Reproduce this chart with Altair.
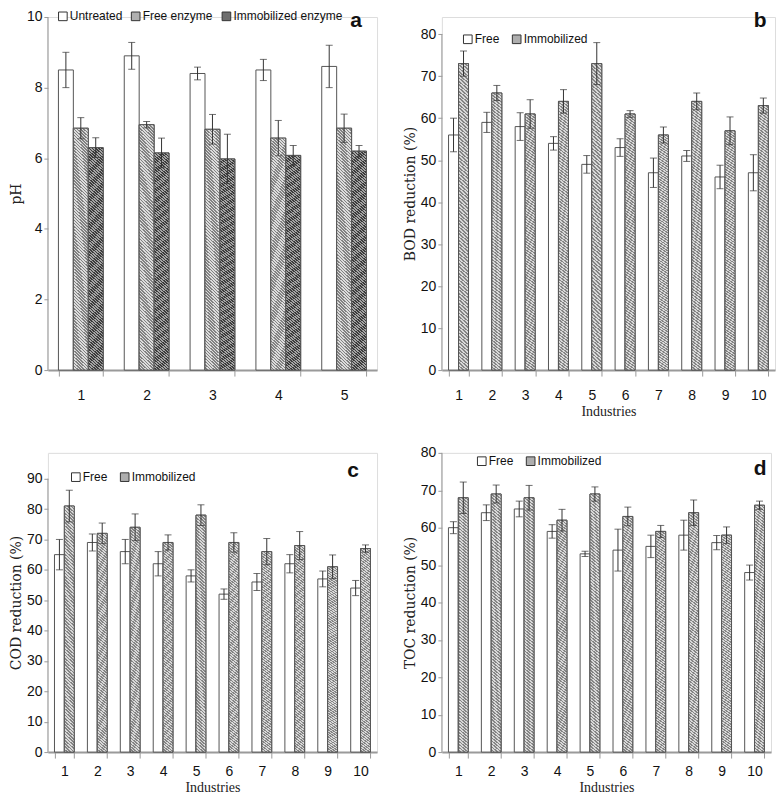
import altair as alt
import pandas as pd

# ---------------- data ----------------
ind5 = ["1", "2", "3", "4", "5"]
ind10 = ["1", "2", "3", "4", "5", "6", "7", "8", "9", "10"]

ph_series = ["Untreated", "Free enzyme", "Immobilized enzyme"]
ph_untreated = [8.5, 8.9, 8.4, 8.5, 8.6]
ph_untreated_err = [0.5, 0.38, 0.18, 0.3, 0.6]
ph_free = [6.85, 6.95, 6.82, 6.57, 6.85]
ph_free_err = [0.3, 0.09, 0.42, 0.5, 0.4]
ph_immob = [6.3, 6.15, 5.98, 6.08, 6.2]
ph_immob_err = [0.28, 0.42, 0.7, 0.28, 0.16]

fi_series = ["Free", "Immobilized"]
bod_free = [56, 59, 58, 54, 49, 53, 47, 51, 46, 47]
bod_free_err = [4, 2.4, 3.3, 1.6, 2.1, 2.1, 3.5, 1.3, 2.8, 4.3]
bod_immob = [73, 66, 61, 64, 73, 61, 56, 64, 57, 63]
bod_immob_err = [3, 1.8, 3.4, 2.8, 5, 0.8, 1.9, 2, 3.3, 1.8]

cod_free = [65, 69, 66, 62, 58, 52, 56, 62, 57, 54]
cod_free_err = [5, 2.8, 4, 4, 2, 1.7, 2.8, 3, 2.6, 2.5]
cod_immob = [81, 72, 74, 69, 78, 69, 66, 68, 61, 67]
cod_immob_err = [5.2, 3.4, 4.4, 2.5, 3.4, 3.2, 4.3, 4.6, 3.9, 1.2]

toc_free = [60, 64, 65, 59, 53, 54, 55, 58, 56, 48]
toc_free_err = [1.6, 2.1, 2.1, 1.8, 0.7, 5.6, 3, 4, 1.9, 2]
toc_immob = [68, 69, 68, 62, 69, 63, 59, 64, 58, 66]
toc_immob_err = [4.2, 2.4, 3.3, 2.9, 1.9, 2.5, 1.6, 3.4, 2.2, 1.1]

SANS = "Liberation Sans, Arial, sans-serif"
SERIF = "DejaVu Serif, Liberation Serif, serif"


def make_df(cats, names, vals, errs):
    rows = []
    for s, vv, ee in zip(names, vals, errs):
        for c, v, e in zip(cats, vv, ee):
            rows.append({"ind": c, "series": s, "value": v, "lo": v - e, "hi": v + e})
    return pd.DataFrame(rows)


def hatch(c_dark, c_light, slant, n=90):
    """Diagonal stripe fill built from a linear gradient with hard stops."""
    f = (slant + 1) / (slant * slant + 1)  # make the gradient span the whole box
    stops = []
    for i in range(n):
        a = i / n
        m = (i + 0.5) / n
        b = (i + 1) / n
        stops += [{"offset": a, "color": c_dark}, {"offset": m, "color": c_dark},
                  {"offset": m, "color": c_light}, {"offset": b, "color": c_light}]
    return {"gradient": "linear", "x1": 0, "y1": 0, "x2": slant * f, "y2": f, "stops": stops}


def panel(df, cats, names, fills, hatches, width, height, ymax, tick_values, ytitle, xtitle,
          letter, letter_xy, legend_xy, pin, pout, lab_pad, legend_pad):
    x = alt.X("ind:O", sort=cats,
              scale=alt.Scale(type="band", paddingInner=pin, paddingOuter=pout),
              axis=alt.Axis(title=xtitle, labelAngle=0, tickBand="extent",
                            domainColor="#9a9a9a", domainWidth=2, tickColor="#9a9a9a",
                            tickSize=6, labelPadding=lab_pad, labelFont=SANS,
                            labelFontSize=14, labelColor="#111",
                            titleFont="Liberation Serif", titleFontSize=14,
                            titleFontWeight="normal", titlePadding=3, titleColor="#222"))
    yscale = alt.Scale(domain=[0, ymax], nice=False)
    yaxis = alt.Axis(title=ytitle, values=tick_values, domain=False, grid=False,
                     labelOverlap=False,
                     tickColor="#9a9a9a", tickSize=4, labelPadding=2,
                     labelFont=SANS, labelFontSize=14, labelColor="#111",
                     titleFont=SERIF, titleFontSize=14, titleFontWeight="normal",
                     titleColor="#222", titlePadding=3)

    def Y(field):
        return alt.Y(f"{field}:Q", scale=yscale, axis=yaxis)

    xo = alt.XOffset("series:N", sort=names,
                     scale=alt.Scale(type="band", domain=names, paddingInner=0, paddingOuter=0))
    base = alt.Chart(df)
    bars = base.mark_bar(stroke="#555", strokeWidth=1).encode(
        x=x, xOffset=xo, y=Y("value"),
        fill=alt.Fill("series:N", sort=names,
                      scale=alt.Scale(domain=names, range=fills),
                      legend=alt.Legend(title=None, orient="none", direction="horizontal",
                                        legendX=legend_xy[0], legendY=legend_xy[1],
                                        symbolType="square", symbolSize=75,
                                        symbolStrokeColor="#333", symbolStrokeWidth=1,
                                        labelFont=SANS, labelFontSize=12,
                                        labelColor="#111", labelOffset=1,
                                        columnPadding=legend_pad)))
    layers = [bars]
    for name, g in hatches.items():
        layers.append(base.transform_filter(alt.datum.series == name).mark_bar(
            fill=g, stroke="#555", strokeWidth=1).encode(x=x, xOffset=xo, y=Y("value")))
    err = base.mark_rule(color="#333", strokeWidth=1).encode(
        x=x, xOffset=xo, y=Y("lo"), y2="hi:Q")
    cap_hi = base.mark_tick(color="#333", size=7, thickness=1).encode(
        x=x, xOffset=xo, y=Y("hi"))
    cap_lo = base.mark_tick(color="#333", size=7, thickness=1).encode(
        x=x, xOffset=xo, y=Y("lo"))
    yline = alt.Chart(pd.DataFrame({"y0": [0], "y1": [tick_values[-1]]})).mark_rule(
        color="#9a9a9a", strokeWidth=1).encode(
        x=alt.value(0), y=Y("y0"), y2="y1:Q")
    lab = alt.Chart(pd.DataFrame({"t": [letter]})).mark_text(
        font="Liberation Sans", fontSize=21, fontWeight="bold", color="#111").encode(
        x=alt.value(letter_xy[0]), y=alt.value(letter_xy[1]), text="t:N")
    layers += [err, cap_hi, cap_lo, yline, lab]
    return alt.layer(*layers).properties(width=width, height=height)


df_a = make_df(ind5, ph_series, [ph_untreated, ph_free, ph_immob],
               [ph_untreated_err, ph_free_err, ph_immob_err])
df_b = make_df(ind10, fi_series, [bod_free, bod_immob], [bod_free_err, bod_immob_err])
df_c = make_df(ind10, fi_series, [cod_free, cod_immob], [cod_free_err, cod_immob_err])
df_d = make_df(ind10, fi_series, [toc_free, toc_immob], [toc_free_err, toc_immob_err])

hatch_a = {"Free enzyme": hatch("#828282", "#dcdcdc", 0.13),
           "Immobilized enzyme": hatch("#3c3c3c", "#a4a4a4", 0.13)}

pa = panel(df_a, ind5, ph_series, ["#ffffff", "#b0b0b0", "#6e6e6e"], hatch_a, 330, 354, 10,
           [0, 2, 4, 6, 8, 10], "pH", None, "a", (309, 4), (9, -7), 0.32, 0.16, 12, 6)
pb = panel(df_b, ind10, fi_series, ["#ffffff", "#aeaeae"],
           {"Immobilized": hatch("#858585", "#d8d8d8", 0.08, 100)}, 334, 354, 84.1,
           [0, 10, 20, 30, 40, 50, 60, 70, 80], "BOD reduction (%)", "Industries",
           "b", (319, 4), (20, 16), 0.4, 0.2, 12, 10)
pc = panel(df_c, ind10, fi_series, ["#ffffff", "#aeaeae"],
           {"Immobilized": hatch("#858585", "#d8d8d8", 0.09, 85)}, 330, 300, 98.5,
           [0, 10, 20, 30, 40, 50, 60, 70, 80, 90], "COD reduction (%)", "Industries",
           "c", (306, 18), (22, 18), 0.4, 0.2, 6, 10)
pd_ = panel(df_d, ind10, fi_series, ["#ffffff", "#aeaeae"],
            {"Immobilized": hatch("#858585", "#d8d8d8", 0.085, 92)}, 330, 300, 80,
            [0, 10, 20, 30, 40, 50, 60, 70, 80], "TOC reduction (%)", "Industries",
            "d", (319, 16), (34, 2), 0.4, 0.2, 6, 10)


def indep(ch):
    return ch.resolve_scale(fill="independent", xOffset="independent").resolve_legend(
        fill="independent")


row1 = indep(alt.hconcat(pa, pb, spacing=24))
row2 = indep(alt.hconcat(pc, pd_, spacing=24))

chart = indep(alt.vconcat(row1, row2, spacing=25)).properties(
    padding=0).configure_view(stroke=None).configure_scale(
    offsetBandPaddingInner=0, offsetBandPaddingOuter=0).configure(background="#ffffff")

chart.save("out.html", embed_options={"renderer": "svg", "actions": False})
